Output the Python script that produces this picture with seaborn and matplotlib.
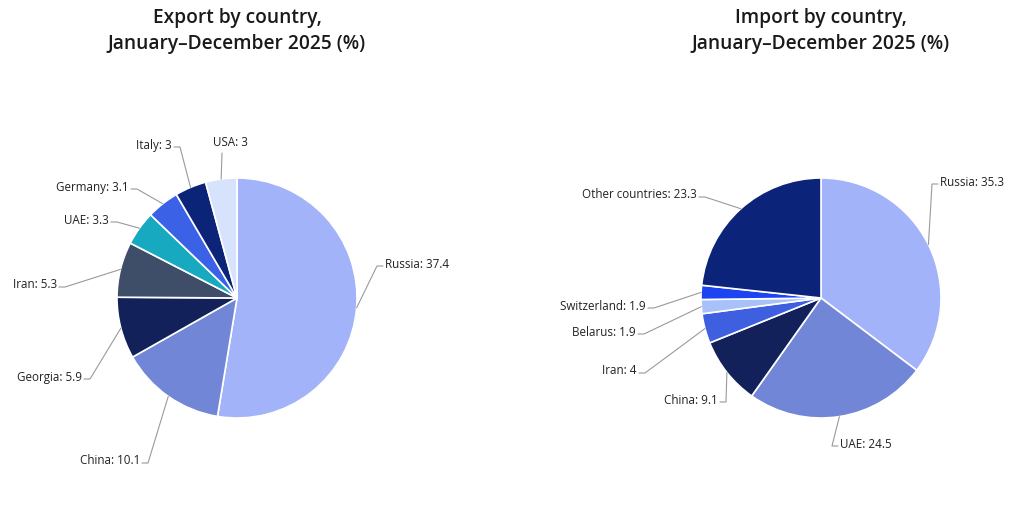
import numpy as np
import matplotlib
matplotlib.use("Agg")
import matplotlib.pyplot as plt
import seaborn as sns

# ---------------- data ----------------
export_countries = ["Russia", "China", "Georgia", "Iran", "UAE", "Germany", "Italy", "USA"]
export_values = [37.4, 10.1, 5.9, 5.3, 3.3, 3.1, 3, 3]

import_countries = ["Russia", "UAE", "China", "Iran", "Belarus", "Switzerland", "Other countries"]
import_values = [35.3, 24.5, 9.1, 4, 1.9, 1.9, 23.3]

export_title = "Export by country,\nJanuary\u2013December 2025 (%)"
import_title = "Import by country,\nJanuary\u2013December 2025 (%)"

# ---------------- style ----------------
export_colors = ["#a3b3f9", "#7186d6", "#13215a", "#3e4d68", "#17a9bf", "#3b62e6", "#0c2478", "#d7e3fc"]
import_colors = ["#a3b3f9", "#7186d6", "#13215a", "#3d5fe0", "#a9c1f9", "#1d44f2", "#0b2379"]

# label layout: pixel offset of the text anchor from the pie centre (dx right, dy down),
# alignment, optional explicit connector end (px offset) for a straight leader
export_layout = [(148, -34, "left", None), (-97, 163, "right", None), (-155, 79, "right", None),
                 (-180, -13, "right", None), (-128, -78, "right", None), (-108, -111, "right", None),
                 (-65, -153, "right", None), (-24, -155, "left", (-15, -145))]
import_layout = [(119, -116, "left", None), (19, 146, "left", None), (-103, 102, "right", None),
                 (-184, 73, "right", None), (-185, 34, "right", None), (-175, 8, "right", None),
                 (-124, -103, "right", None)]

sns.set_theme(style="white")
plt.rcParams['font.family'] = ['Open Sans', 'DejaVu Sans']

W, H = 1024, 523
R = 120.0  # pie radius in px
fig = plt.figure(figsize=(W / 100, H / 100), dpi=100)
fig.patch.set_facecolor("white")


def draw_pie(cx, cy, names, values, colors, layout, title, title_y):
    half = 200
    ax = fig.add_axes([(cx - half) / W, (H - cy - half) / H, 2 * half / W, 2 * half / H])
    wedges, _ = ax.pie(values, colors=colors, startangle=90, counterclock=False, radius=1,
                       wedgeprops=dict(edgecolor="white", linewidth=1.2))
    ax.set_xlim(-half / R, half / R)
    ax.set_ylim(-half / R, half / R)
    ax.set_aspect("equal")
    ax.axis("off")
    for w, name, val, (dx, dy, ha, end) in zip(wedges, names, values, layout):
        ang = np.deg2rad((w.theta1 + w.theta2) / 2)
        ex, ey = np.cos(ang), np.sin(ang)
        tx, ty = dx / R, -dy / R
        if end is None:
            sgn = 1 if ha == "left" else -1
            ly = ty - 2 / R
            xs = [ex, tx - sgn * 8 / R, tx - sgn * 2 / R]
            ys = [ey, ly, ly]
        else:
            xs = [ex, end[0] / R]
            ys = [ey, -end[1] / R]
        ax.plot(xs, ys, color="#9a9a9a", lw=0.8, clip_on=False, zorder=1)
        ax.text(tx, ty, f"{name}: {val:g}", ha=ha, va="center", fontsize=8.4,
                color="#222222", clip_on=False)
    fig.text(cx / W, 1 - title_y / H, title, ha="center", va="top", fontsize=13.8,
             fontweight="semibold", color="#1a1a1a", linespacing=1.4)


draw_pie(237, 298, export_countries, export_values, export_colors, export_layout, export_title, 8)
draw_pie(821, 298, import_countries, import_values, import_colors, import_layout, import_title, 8)

fig.savefig("out.png", dpi=100, facecolor="white")
